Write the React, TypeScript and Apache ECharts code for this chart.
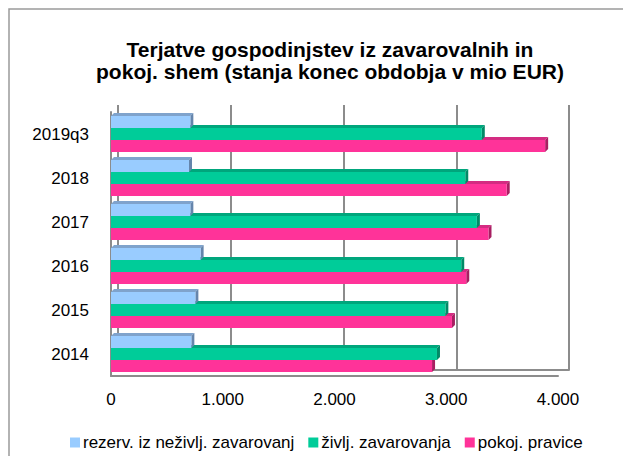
import React, { useEffect, useRef } from "react";
import * as echarts from "echarts";

const categories = ["2019q3", "2018", "2017", "2016", "2015", "2014"];
const seriesNames = ["rezerv. iz neživlj. zavarovanj", "življ. zavarovanja", "pokoj. pravice"];
const nonLife = [710, 698, 710, 802, 755, 719];
const life = [3318, 3170, 3274, 3134, 2992, 2917];
const pension = [3885, 3541, 3378, 3179, 3051, 2873];

const frontColors = ["#99CCFF", "#00CC99", "#FF3399"];
const topColors = ["#7FA3CC", "#00A67C", "#D42C82"];
const sideColors = ["#6585AC", "#008A67", "#A81F62"];

const fmt = (v: number) => String(v).replace(/\B(?=(\d{3})+(?!\d))/g, ".");

export default function App() {
  const ref = useRef<HTMLDivElement>(null);
  useEffect(() => {
    if (!ref.current) return;
    const chart = echarts.init(ref.current, null, { renderer: "svg" });
    const all = [nonLife, life, pension];
    const gapRatio = 0.18;
    const depth = 3;

    const faceSeries = [2, 1, 0].map((s) => ({
      type: "custom",
      name: "face" + s,
      xAxisIndex: 0,
      yAxisIndex: 0,
      z: 1,
      silent: true,
      data: all[s].map((v, i) => [v, i]),
      encode: { x: 0, y: 1 },
      renderItem: (params: any, api: any) => {
        const v = api.value(0);
        const i = api.value(1);
        const p = api.coord([v, i]);
        const p0 = api.coord([0, i]);
        const band = api.size([0, 1])[1];
        const h = (band * (1 - gapRatio)) / 3;
        const yTop = p[1] - 1.5 * h + s * h;
        const yBot = yTop + h;
        const xE = p[0];
        const x0 = p0[0];
        return {
          type: "group",
          children: [
            {
              type: "polygon",
              shape: { points: [[x0, yTop], [x0 + depth, yTop - depth], [xE + depth, yTop - depth], [xE, yTop]] },
              style: { fill: topColors[s] },
            },
            {
              type: "polygon",
              shape: { points: [[xE, yTop], [xE + depth, yTop - depth], [xE + depth, yBot - depth], [xE, yBot]] },
              style: { fill: sideColors[s] },
            },
          ],
        };
      },
    }));

    const barSeries = all.map((d, s) => ({
      type: "bar",
      name: seriesNames[s],
      xAxisIndex: 0,
      yAxisIndex: 0,
      z: 2,
      data: d,
      barGap: "0%",
      barCategoryGap: "18%",
      itemStyle: { color: frontColors[s] },
    }));

    chart.setOption({
      animation: false,
      graphic: [
        {
          type: "rect",
          shape: { x: 9, y: 9, width: 800, height: 600 },
          style: { fill: "none", stroke: "#9a9a9a", lineWidth: 1.5 },
          z: 0,
        },
      ],
      title: {
        text: "Terjatve gospodinjstev iz zavarovalnih in\npokoj. shem (stanja konec obdobja v mio EUR)",
        left: 325,
        textAlign: "center",
        top: 33,
        textStyle: {
          fontFamily: "Liberation Sans",
          fontWeight: "bold",
          fontSize: 21,
          lineHeight: 22,
          color: "#000",
        },
      },
      legend: {
        data: seriesNames,
        left: 65,
        top: 429,
        icon: "rect",
        itemWidth: 10,
        itemHeight: 10,
        itemGap: 14,
        textStyle: { fontFamily: "Liberation Sans", fontSize: 17, color: "#000", padding: [0, 0, 0, -2] },
      },
      grid: [
        { left: 111, right: 65, top: 112, bottom: 80 },
        { left: 118, right: 54, top: 105, bottom: 86 },
      ],
      xAxis: [
        {
          type: "value",
          gridIndex: 0,
          min: 0,
          max: 4000,
          interval: 1000,
          splitLine: { show: false },
          axisLine: { show: true, lineStyle: { color: "#8c8c8c", width: 2 } },
          axisTick: { show: false },
          axisLabel: {
            formatter: (v: number) => fmt(v),
            fontFamily: "Liberation Sans",
            fontSize: 17,
            color: "#000",
            margin: 15,
            showMaxLabel: true,
          },
        },
        {
          type: "value",
          gridIndex: 1,
          min: 0,
          max: 4000,
          interval: 1000,
          splitLine: { show: true, lineStyle: { color: "#8c8c8c", width: 2 } },
          axisLine: { show: true, lineStyle: { color: "#8c8c8c", width: 2 } },
          axisTick: { show: false },
          axisLabel: { show: false },
        },
      ],
      yAxis: [
        {
          type: "category",
          gridIndex: 0,
          inverse: true,
          data: categories,
          axisLine: { show: true, lineStyle: { color: "#8c8c8c", width: 2 } },
          axisTick: { show: false },
          axisLabel: {
            fontFamily: "Liberation Sans",
            fontSize: 17,
            color: "#000",
            margin: 22,
            padding: [6, 0, 0, 0],
          },
        },
        {
          type: "category",
          gridIndex: 1,
          inverse: true,
          data: categories,
          axisLine: { show: false },
          axisTick: { show: false },
          axisLabel: { show: false },
          splitLine: { show: false },
        },
      ],
      series: [...faceSeries, ...barSeries],
    });
    return () => chart.dispose();
  }, []);
  return (
    <div
      ref={ref}
      style={{ position: "absolute", left: 0, top: 0, width: 623, height: 456, background: "#fff" }}
    />
  );
}
